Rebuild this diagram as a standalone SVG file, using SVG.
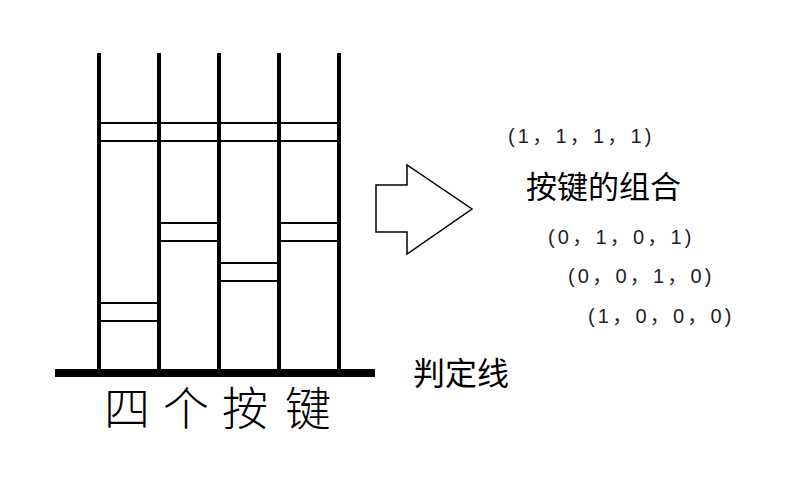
<svg xmlns="http://www.w3.org/2000/svg" width="808" height="484" viewBox="0 0 808 484">
<style>
.rail{stroke:#000;stroke-width:4;fill:none}
.bar{stroke:#000;stroke-width:2;fill:none}
.base{stroke:#000;stroke-width:8;fill:none}
.arrow{fill:#fff;stroke:#000;stroke-width:1.5;stroke-linejoin:miter}
.t{font-family:"Noto Sans CJK SC","Noto Sans",sans-serif;fill:#000}
.big{font-weight:300}
.tup{font-family:"Liberation Sans","Noto Sans CJK SC",sans-serif;font-size:20px;letter-spacing:3.2px;fill:#222}
</style>
<rect width="808" height="484" fill="#fff"/>
<g id="tracks">
<line class="rail" x1="99" y1="53" x2="99" y2="372"/>
<line class="rail" x1="159" y1="53" x2="159" y2="372"/>
<line class="rail" x1="219" y1="53" x2="219" y2="372"/>
<line class="rail" x1="279" y1="53" x2="279" y2="372"/>
<line class="rail" x1="339" y1="53" x2="339" y2="372"/>
</g>
<g id="notes">
<line class="bar" x1="99" y1="123" x2="339" y2="123"/>
<line class="bar" x1="99" y1="141" x2="339" y2="141"/>
<line class="bar" x1="159" y1="223" x2="219" y2="223"/>
<line class="bar" x1="159" y1="241" x2="219" y2="241"/>
<line class="bar" x1="279" y1="223" x2="339" y2="223"/>
<line class="bar" x1="279" y1="241" x2="339" y2="241"/>
<line class="bar" x1="219" y1="263" x2="279" y2="263"/>
<line class="bar" x1="219" y1="281" x2="279" y2="281"/>
<line class="bar" x1="99" y1="303" x2="159" y2="303"/>
<line class="bar" x1="99" y1="321" x2="159" y2="321"/>
</g>
<g id="judge-line">
<line class="base" x1="55" y1="373" x2="375" y2="373"/>
<text class="t" x="413" y="385" font-size="32">判定线</text>
</g>
<g id="keys-label">
<text class="t big" font-size="46" text-anchor="middle" y="425"><tspan x="127">四</tspan><tspan x="186">个</tspan><tspan x="245">按</tspan><tspan x="308">键</tspan></text>
</g>
<g id="arrow">
<polygon class="arrow" points="376,185 407,185 407,165 472,209 407,254 407,232 376,232"/>
</g>
<g id="combos">
<text class="t" x="526" y="198" font-size="31">按键的组合</text>
<text class="tup" x="508" y="143">(1，1，1，1)</text>
<text class="tup" x="548" y="244">(0，1，0，1)</text>
<text class="tup" x="568" y="283">(0，0，1，0)</text>
<text class="tup" x="588" y="323">(1，0，0，0)</text>
</g>
</svg>
